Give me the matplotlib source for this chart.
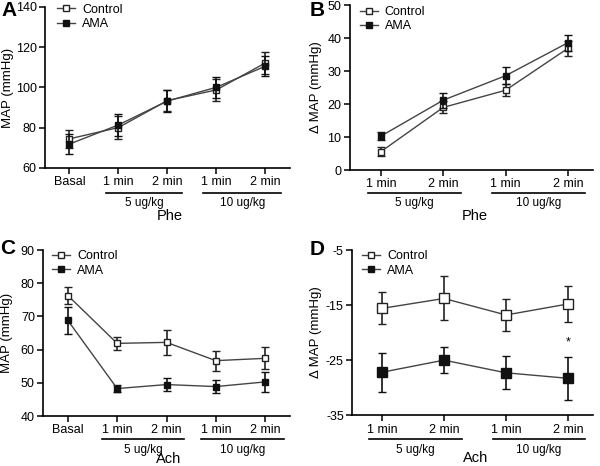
import matplotlib
matplotlib.use("Agg")
import matplotlib.pyplot as plt
import matplotlib.transforms as mtransforms
from matplotlib.lines import Line2D

plt.rcParams['font.family'] = ['Liberation Sans', 'DejaVu Sans']

# ---------------- data ----------------
labels_5 = ["Basal", "1 min", "2 min", "1 min", "2 min"]
labels_4 = ["1 min", "2 min", "1 min", "2 min"]
groups = ["5 ug/kg", "10 ug/kg"]

a_ctrl = [74.5, 80.1, 93.5, 98.8, 112.2]
a_ctrl_err = [4.5, 5.5, 5.3, 5.5, 5.5]
a_ama = [71.9, 81.4, 93.3, 100.1, 110.6]
a_ama_err = [5.0, 5.3, 5.3, 5.3, 5.0]

b_ctrl = [5.6, 19.0, 24.2, 36.9]
b_ctrl_err = [1.4, 1.8, 1.8, 2.2]
b_ama = [10.3, 21.2, 28.6, 38.6]
b_ama_err = [1.1, 2.3, 2.5, 2.4]

c_ctrl = [76.3, 61.9, 62.2, 56.7, 57.4]
c_ctrl_err = [2.7, 1.9, 3.7, 3.0, 3.3]
c_ama = [68.8, 48.3, 49.5, 48.9, 50.3]
c_ama_err = [4.0, 1.0, 1.9, 2.0, 3.0]

d_ctrl = [-15.6, -13.8, -16.8, -14.8]
d_ctrl_err = [2.9, 4.0, 2.9, 3.2]
d_ama = [-27.2, -25.0, -27.3, -28.3]
d_ama_err = [3.5, 2.4, 3.0, 3.9]

W, H = 600, 466
fig = plt.figure(figsize=(W / 100, H / 100), dpi=100)
LC = '#444444'


def make_ax(rect, xs, ctrl, cerr, ama, aerr, xlim, ylim, yticks, yticklabels,
            xlabels, ylabel, ylab_x, group_pos, xlabel, ms, line_y, glabel_y,
            xlab_y, leg_anchor):
    ax = fig.add_axes(rect)
    ax.errorbar(xs, ctrl, yerr=cerr, fmt='-', color=LC, lw=1.0, ecolor='#222222',
                elinewidth=1.2, capsize=3, capthick=1.2, marker='s', ms=ms,
                mfc='white', mec='#222222', mew=1.0, zorder=3)
    ax.errorbar(xs, ama, yerr=aerr, fmt='-', color=LC, lw=1.0, ecolor='#111111',
                elinewidth=1.2, capsize=3, capthick=1.2, marker='s', ms=ms,
                mfc='#111111', mec='#111111', mew=1.0, zorder=4)
    ax.set_xlim(*xlim)
    ax.set_ylim(*ylim)
    ax.set_yticks(yticks)
    ax.set_yticklabels(yticklabels, fontsize=9)
    ax.set_xticks(xs)
    ax.set_xticklabels(xlabels, fontsize=9)
    ax.tick_params(direction='out', length=4, width=1.1, pad=2)
    ax.spines['top'].set_visible(False)
    ax.spines['right'].set_visible(False)
    for s in ['left', 'bottom']:
        ax.spines[s].set_linewidth(1.2)
    ax.set_ylabel(ylabel, fontsize=9.5)
    ax.yaxis.set_label_coords(ylab_x, 0.5)
    trans = mtransforms.blended_transform_factory(ax.transData, ax.transAxes)
    for (x0, x1), g in zip(group_pos, groups):
        ax.plot([x0, x1], [line_y, line_y], color='black', lw=1.2,
                transform=trans, clip_on=False)
        ax.text((x0 + x1) / 2, glabel_y, g, transform=trans, ha='center',
                va='center', fontsize=8.5)
    ax.text(0.5 * (xlim[0] + xlim[1]) + 0.05, xlab_y, xlabel, transform=trans,
            ha='center', va='center', fontsize=10.5)
    handles = [
        Line2D([], [], color=LC, lw=1.0, marker='s', ms=4.5, mfc='white',
               mec='#222222', mew=1.0, label='Control'),
        Line2D([], [], color=LC, lw=1.0, marker='s', ms=4.5, mfc='#111111',
               mec='#111111', mew=1.0, label='AMA'),
    ]
    ax.legend(handles=handles, loc='upper left', bbox_to_anchor=leg_anchor,
              frameon=False, fontsize=9, handlelength=1.45, handletextpad=0.55,
              labelspacing=0.2, borderaxespad=0.0, borderpad=0.0)
    return ax


xs5 = list(range(len(labels_5)))
xs4 = list(range(len(labels_4)))

axA = make_ax([0.075, 0.6395, 0.408, 0.3455], xs5, a_ctrl, a_ctrl_err, a_ama, a_ama_err,
              (-0.5, 4.5), (60, 140), [60, 80, 100, 120, 140],
              ['60', '80', '100', '120', '140'], labels_5, 'MAP (mmHg)', -0.127,
              [(0.75, 2.3), (2.73, 4.33)], 'Phe', 5, -0.155, -0.22, -0.30,
              (0.049, 1.02))

axB = make_ax([0.583, 0.635, 0.405, 0.354], xs4, b_ctrl, b_ctrl_err, b_ama, b_ama_err,
              (-0.5, 3.4), (0, 50), [0, 10, 20, 30, 40, 50],
              ['0', '10', '20', '30', '40', '50'], labels_4, '\u0394 MAP (mmHg)', -0.115,
              [(-0.21, 1.29), (1.79, 3.27)], 'Phe', 5, -0.14, -0.2, -0.28,
              (0.041, 0.995))

axC = make_ax([0.072, 0.107, 0.411, 0.3565], xs5, c_ctrl, c_ctrl_err, c_ama, c_ama_err,
              (-0.5, 4.5), (40, 90), [40, 50, 60, 70, 80, 90],
              ['40', '50', '60', '70', '80', '90'], labels_5, 'MAP (mmHg)', -0.121,
              [(0.7, 2.35), (2.7, 4.38)], 'Ach', 5, -0.14, -0.205, -0.255,
              (0.036, 1.0))

axD = make_ax([0.587, 0.109, 0.401, 0.3545], xs4, d_ctrl, d_ctrl_err, d_ama, d_ama_err,
              (-0.48, 3.4), (-35, -5), [-35, -25, -15, -5],
              ['-35', '-25', '-15', '-5'], labels_4, '\u0394 MAP (mmHg)', -0.124,
              [(-0.21, 1.29), (1.79, 3.27)], 'Ach', 7, -0.145, -0.21, -0.26,
              (0.041, 1.0))

# significance marker
axD.annotate('*', xy=(xs4[3], d_ama[3] + d_ama_err[3]), xytext=(0, 6),
             textcoords='offset points', ha='center', va='bottom', fontsize=9)

# panel letters (pixel positions)
for letter, px, py in [('A', 9, 10), ('B', 317, 10), ('C', 8, 249), ('D', 317, 250)]:
    fig.text(px / W, 1 - py / H, letter, fontsize=15, fontweight='bold',
             ha='center', va='center')

fig.savefig('out.png', dpi=100)
